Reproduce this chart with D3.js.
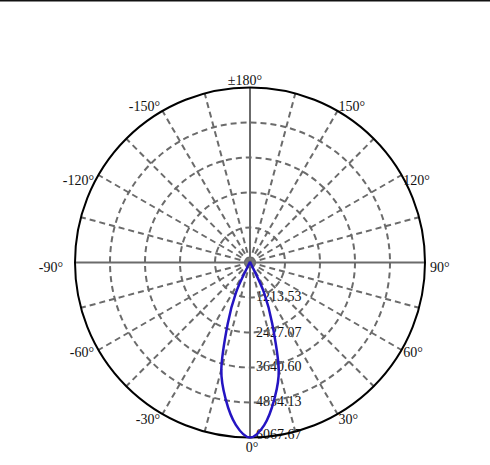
<!DOCTYPE html>
<html>
<head>
<meta charset="utf-8">
<script src="https://cdn.jsdelivr.net/npm/d3@7"></script>
<style>
  body { margin: 0; background: #fff; }
  svg { display: block; }
</style>
</head>
<body>
<script>

// gamma angles (deg) and luminous intensity
var angles = [-45, -40, -35, -30, -25, -20, -15, -10, -5, 0, 5, 10, 15, 20, 25, 30, 35, 40, 45];
var intensity = [0, 5, 15, 130, 1150, 2260, 3840, 4830, 5650, 6067.67, 5660, 4830, 3850, 2250, 1150, 120, 15, 5, 0];

var ringValues = [1213.53, 2427.07, 3640.60, 4854.13, 6067.67];
var ringLabels = ["1213.53", "2427.07", "3640.60", "4854.13", "6067.67"];

var angleTicks = [0, 30, 60, 90, 120, 150, 180, -150, -120, -90, -60, -30];
var angleLabels = ["0°", "30°", "60°", "90°", "120°", "150°", "±180°", "-150°", "-120°", "-90°", "-60°", "-30°"];

var width = 490, height = 465;
var cx = 250, cy = 262.5, R = 175;
var font = "'Liberation Serif', 'Times New Roman', serif";

var svg = d3.select("body").append("svg").attr("width", width).attr("height", height);

// border line at the very top
svg.append("line").attr("x1", 0).attr("x2", width).attr("y1", 0.75).attr("y2", 0.75)
   .attr("stroke", "#111").attr("stroke-width", 1.5);

var r = d3.scaleLinear().domain([0, 6067.67]).range([0, R]);
var rad = function (deg) { return deg * Math.PI / 180; };

var g = svg.append("g").attr("transform", "translate(" + cx + "," + cy + ")");

// ring value labels (drawn under the grid)
g.selectAll("text.ring")
   .data(ringValues)
   .enter()
   .append("text")
   .attr("class", "ring")
   .attr("x", 6)
   .attr("y", function (d, i) { return r(d) + (i == 4 ? 1.5 : 4); })
   .attr("font-family", font)
   .attr("font-size", 14)
   .attr("fill", "#111")
   .text(function (d, i) { return ringLabels[i]; });

// dashed inner rings
g.selectAll("circle.grid")
   .data(ringValues.slice(0, 4))
   .enter()
   .append("circle")
   .attr("r", function (d) { return r(d); })
   .attr("fill", "none")
   .attr("stroke", "#6b6b6b")
   .attr("stroke-width", 2)
   .attr("stroke-dasharray", "6,4");

// spokes every 15 degrees, axis spokes solid
var spokes = d3.range(0, 360, 15);
g.selectAll("line.spoke")
   .data(spokes)
   .enter()
   .append("line")
   .attr("x1", 0).attr("y1", 0)
   .attr("x2", function (d) { return R * Math.sin(rad(d)); })
   .attr("y2", function (d) { return R * Math.cos(rad(d)); })
   .attr("stroke", "#6b6b6b")
   .attr("stroke-width", 2)
   .attr("stroke-dasharray", function (d) { return d % 90 == 0 ? null : "6,4"; });

// outer circle
g.append("circle").attr("r", R).attr("fill", "none").attr("stroke", "#000").attr("stroke-width", 2);

// small circle at the origin
g.append("circle").attr("r", 3.5).attr("fill", "none").attr("stroke", "#777").attr("stroke-width", 2.5);

// angle labels round the outside
g.selectAll("text.angle")
   .data(angleTicks)
   .enter()
   .append("text")
   .attr("class", "angle")
   .attr("font-family", font)
   .attr("font-size", 14)
   .attr("fill", "#111")
   .attr("text-anchor", function (d) {
      var s = Math.sin(rad(d));
      return Math.abs(s) < 0.01 ? "middle" : (s > 0 ? "start" : "end");
   })
   .attr("x", function (d) {
      var s = Math.sin(rad(d));
      if (Math.abs(s) < 0.01) return d == 0 ? 2 : -5;
      var gap = s > 0 ? 2 : 5;
      if (Math.abs(s) > 0.99) gap += s > 0 ? 3 : 7;
      return (R + gap) * s;
   })
   .attr("y", function (d) {
      var c = Math.cos(rad(d)), s = Math.sin(rad(d));
      var yc;
      if (Math.abs(s) < 0.01) yc = c > 0 ? R + 10 : -R - 7;
      else yc = R * c + (Math.abs(d) > 135 ? -4.5 : (Math.abs(d) == 60 ? 2 : 5));
      return yc + 4.6;
   })
   .text(function (d, i) { return angleLabels[i]; });

// intensity curve
var line = d3.lineRadial()
   .angle(function (d, i) { return Math.PI - rad(angles[i]); })
   .radius(function (d) { return r(d); })
   .curve(d3.curveCardinalClosed);

g.append("path")
   .attr("d", line(intensity))
   .attr("fill", "none")
   .attr("stroke", "#2414c2")
   .attr("stroke-width", 2.5);

</script>
</body>
</html>
